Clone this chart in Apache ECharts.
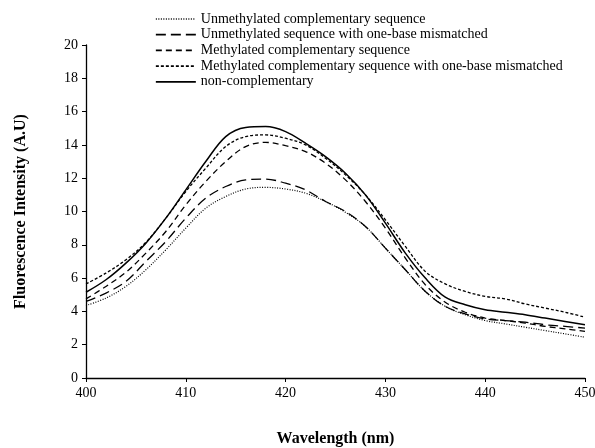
<!DOCTYPE html>
<html><head><meta charset="utf-8">
<script src="https://cdn.jsdelivr.net/npm/echarts@6/dist/echarts.min.js"></script>
<style>html,body{margin:0;padding:0;background:#fff}#c{width:595px;height:448px}</style>
</head><body><div id="c"></div>
<script>
var wavelengths = [400,402,404,406,408,410,412,414,416,418,420,422,424,426,428,430,432,434,436,438,440,442,444,446,448,450];
var unmethComp = [4.35,4.8,5.5,6.5,7.7,9.0,10.2,10.9,11.35,11.45,11.35,11.1,10.6,9.95,9.1,7.8,6.5,5.2,4.3,3.8,3.45,3.25,3.05,2.85,2.65,2.45];
var unmethMis = [4.6,5.1,5.8,7.0,8.2,9.6,10.8,11.5,11.9,11.95,11.7,11.3,10.6,10.0,9.1,7.8,6.5,5.2,4.3,3.85,3.55,3.45,3.35,3.2,3.1,3.0];
var methComp = [4.75,5.5,6.35,7.5,8.8,10.4,11.8,13.0,13.9,14.15,13.95,13.6,12.9,11.9,10.6,9.0,7.2,5.6,4.55,3.95,3.6,3.45,3.3,3.1,2.95,2.8];
var methMis = [5.65,6.3,7.1,8.15,9.6,11.2,12.6,13.9,14.5,14.6,14.4,14.0,13.2,12.2,11.0,9.5,7.9,6.4,5.65,5.2,4.9,4.75,4.45,4.2,3.95,3.65];
var nonComp = [5.15,5.9,6.9,8.1,9.6,11.3,13.0,14.5,15.05,15.1,14.8,14.1,13.3,12.3,11.0,9.3,7.5,6.0,4.85,4.4,4.1,3.95,3.8,3.6,3.4,3.2];
var seriesNames = ['Unmethylated complementary sequence','Unmethylated sequence with one-base mismatched','Methylated complementary sequence','Methylated complementary sequence with one-base mismatched','non-complementary'];
var seriesData = [unmethComp, unmethMis, methComp, methMis, nonComp];
var dashes = [[1,1.5],[10,5],[6,4],[3,2],'solid'];
var widths = [1.2,1.3,1.3,1.3,1.5];

var font = '"Liberation Serif","Times New Roman",serif';
var chart = echarts.init(document.getElementById('c'));
chart.setOption({
  animation:false,
  grid:{left:86,right:10,top:45,bottom:70,containLabel:false,outerBoundsMode:'none'},
  legend:{
    orient:'vertical', left:150, top:7, itemWidth:40, itemHeight:12, itemGap:1.7,
    itemStyle:{opacity:0},
    lineStyle:{width:1.7},
    textStyle:{fontFamily:font,fontSize:14,color:'#000'},
    data:seriesNames
  },
  xAxis:{
    type:'value', min:400, max:450, interval:10,
    name:'Wavelength (nm)', nameLocation:'middle', nameGap:53,
    nameTextStyle:{fontFamily:font,fontSize:16,fontWeight:'bold',color:'#000'},
    axisLine:{lineStyle:{color:'#000',width:1.3}},
    axisTick:{show:true,length:4,lineStyle:{color:'#000'}},
    axisLabel:{fontFamily:font,fontSize:14,color:'#000',margin:8},
    splitLine:{show:false}
  },
  yAxis:{
    type:'value', min:0, max:20, interval:2,
    name:'Fluorescence Intensity (A.U)', nameLocation:'middle', nameGap:57,
    nameTextStyle:{fontFamily:font,fontSize:16,fontWeight:'bold',color:'#000'},
    axisLine:{show:true,lineStyle:{color:'#000',width:1.3}},
    axisTick:{show:true,length:4,lineStyle:{color:'#000'}},
    axisLabel:{fontFamily:font,fontSize:14,color:'#000',margin:8},
    splitLine:{show:false}
  },
  series: seriesNames.map(function(n,i){
    return {
      name:n, type:'line', symbol:'none', smooth:0.35,
      data: wavelengths.map(function(w,j){return [w, seriesData[i][j]];}),
      lineStyle:{color:'#000', width:widths[i], type:dashes[i]},
      itemStyle:{color:'#000'}
    };
  })
});
</script></body></html>
